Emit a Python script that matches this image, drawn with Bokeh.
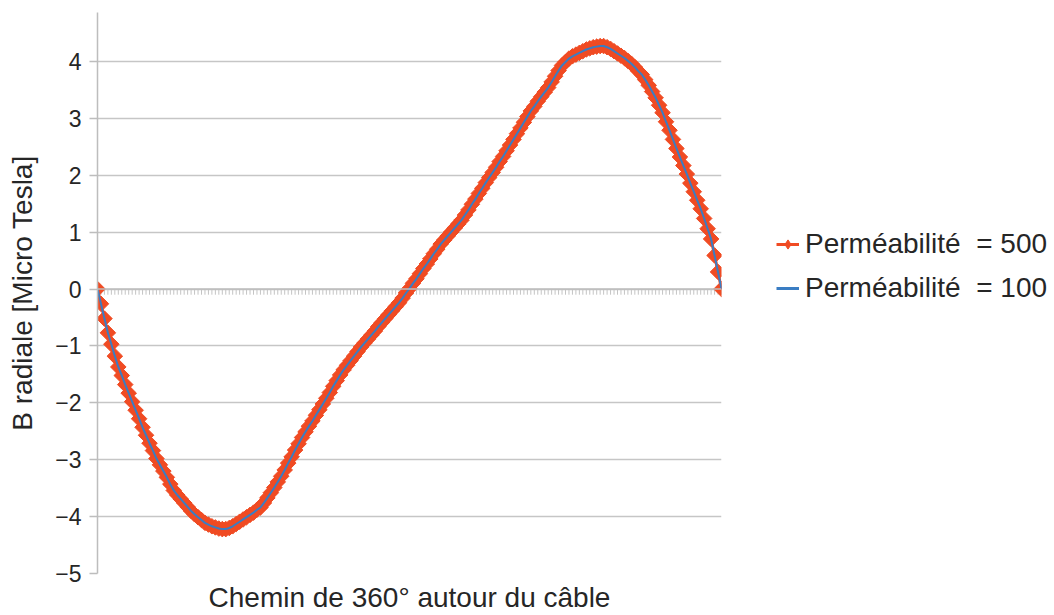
from bokeh.plotting import figure
from bokeh.layouts import row
from bokeh.models import Range1d, FixedTicker, Span, Legend, LegendItem
from bokeh.embed import file_html
from bokeh.resources import INLINE

# ---- data ----
angles = list(range(0, 361, 2))  # categories: 0..360 degrees along the path

b500 = [
    0.00, -0.26, -0.52, -0.77, -0.97, -1.18, -1.37, -1.52, -1.68, -1.83,
    -1.98, -2.13, -2.28, -2.43, -2.57, -2.71, -2.84, -2.98, -3.09, -3.20,
    -3.31, -3.43, -3.54, -3.62, -3.69, -3.76, -3.83, -3.90, -3.96, -4.01,
    -4.06, -4.11, -4.14, -4.17, -4.19, -4.21, -4.22, -4.22, -4.20, -4.17,
    -4.13, -4.09, -4.05, -4.01, -3.97, -3.93, -3.88, -3.84, -3.76, -3.67,
    -3.58, -3.49, -3.39, -3.29, -3.18, -3.06, -2.95, -2.83, -2.72, -2.61,
    -2.51, -2.41, -2.32, -2.22, -2.12, -2.02, -1.92, -1.82, -1.71, -1.61,
    -1.51, -1.42, -1.34, -1.26, -1.18, -1.10, -1.02, -0.95, -0.88, -0.81,
    -0.74, -0.66, -0.59, -0.52, -0.45, -0.38, -0.31, -0.24, -0.16, -0.07,
    0.01, 0.10, 0.18, 0.27, 0.36, 0.44, 0.53, 0.62, 0.70, 0.79,
    0.86, 0.93, 1.00, 1.07, 1.14, 1.21, 1.30, 1.39, 1.49, 1.58,
    1.68, 1.77, 1.87, 1.96, 2.05, 2.14, 2.24, 2.33, 2.43, 2.53,
    2.63, 2.73, 2.83, 2.93, 3.03, 3.13, 3.21, 3.30, 3.38, 3.46,
    3.54, 3.64, 3.74, 3.84, 3.93, 3.99, 4.05, 4.09, 4.12, 4.15,
    4.18, 4.21, 4.23, 4.25, 4.26, 4.27, 4.27, 4.25, 4.22, 4.18,
    4.14, 4.10, 4.06, 4.01, 3.96, 3.90, 3.83, 3.77, 3.68, 3.58,
    3.47, 3.36, 3.23, 3.10, 2.94, 2.79, 2.63, 2.47, 2.32, 2.17,
    2.02, 1.86, 1.71, 1.56, 1.41, 1.24, 1.06, 0.88, 0.59, 0.30,
    0.00,
]

b100 = [
    0.00, -0.26, -0.52, -0.77, -0.97, -1.18, -1.37, -1.52, -1.68, -1.83,
    -1.98, -2.13, -2.28, -2.43, -2.57, -2.71, -2.84, -2.98, -3.09, -3.20,
    -3.31, -3.43, -3.54, -3.62, -3.69, -3.76, -3.83, -3.90, -3.96, -4.01,
    -4.06, -4.11, -4.14, -4.17, -4.19, -4.21, -4.22, -4.22, -4.20, -4.17,
    -4.13, -4.09, -4.05, -4.01, -3.97, -3.93, -3.88, -3.84, -3.76, -3.67,
    -3.58, -3.49, -3.39, -3.29, -3.18, -3.06, -2.95, -2.83, -2.72, -2.61,
    -2.51, -2.41, -2.32, -2.22, -2.12, -2.02, -1.92, -1.82, -1.71, -1.61,
    -1.51, -1.42, -1.34, -1.26, -1.18, -1.10, -1.02, -0.95, -0.88, -0.81,
    -0.74, -0.66, -0.59, -0.52, -0.45, -0.38, -0.31, -0.24, -0.16, -0.07,
    0.01, 0.10, 0.18, 0.27, 0.36, 0.44, 0.53, 0.62, 0.70, 0.79,
    0.86, 0.93, 1.00, 1.07, 1.14, 1.21, 1.30, 1.39, 1.49, 1.58,
    1.68, 1.77, 1.87, 1.96, 2.05, 2.14, 2.24, 2.33, 2.43, 2.53,
    2.63, 2.73, 2.83, 2.93, 3.03, 3.13, 3.21, 3.30, 3.38, 3.46,
    3.54, 3.64, 3.74, 3.84, 3.93, 3.99, 4.05, 4.09, 4.12, 4.15,
    4.18, 4.21, 4.23, 4.25, 4.26, 4.27, 4.27, 4.25, 4.22, 4.18,
    4.14, 4.10, 4.06, 4.01, 3.96, 3.90, 3.83, 3.77, 3.68, 3.58,
    3.47, 3.36, 3.23, 3.10, 2.94, 2.79, 2.63, 2.47, 2.32, 2.17,
    2.02, 1.86, 1.71, 1.56, 1.41, 1.24, 1.06, 0.88, 0.59, 0.30,
    0.00,
]

y_ticks = [-5, -4, -3, -2, -1, 0, 1, 2, 3, 4]
label_500 = "Perméabilité  = 500"
label_100 = "Perméabilité  = 100"
x_title = "Chemin de 360° autour du câble"
y_title = "B radiale [Micro Tesla]"

RED = "#F04B23"
BLUE = "#3A7DC3"
GRID = "#c6c6c6"
AXIS = "#bdbdbd"
TEXT = "#262626"
FONT = "Liberation Sans"

p = figure(width=730, height=615, output_backend="svg", toolbar_location=None,
           x_range=Range1d(angles[0], angles[-1]), y_range=Range1d(-5, 4.86),
           min_border_left=97, min_border_right=9, min_border_top=12,
           min_border_bottom=42)
p.outline_line_color = None
p.background_fill_color = "white"
p.border_fill_color = "white"

# x axis: only its title
p.xaxis.ticker = FixedTicker(ticks=[])
p.xaxis.axis_label = x_title
p.xaxis.axis_label_text_font = FONT
p.xaxis.axis_label_text_font_size = "28px"
p.xaxis.axis_label_text_font_style = "normal"
p.xaxis.axis_label_text_color = TEXT
p.xaxis.axis_label_standoff = 8
p.xaxis.major_tick_line_color = None
p.xaxis.minor_tick_line_color = None
p.xaxis.axis_line_color = None

# y axis
p.yaxis.ticker = FixedTicker(ticks=y_ticks)
p.yaxis.axis_label = y_title
p.yaxis.axis_label_text_font = FONT
p.yaxis.axis_label_text_font_size = "28px"
p.yaxis.axis_label_text_font_style = "normal"
p.yaxis.axis_label_text_color = TEXT
p.yaxis.axis_label_standoff = 14
p.yaxis.major_label_text_font = FONT
p.yaxis.major_label_text_font_size = "23px"
p.yaxis.major_label_text_color = TEXT
p.yaxis.major_label_standoff = 8
p.yaxis.major_tick_out = 8
p.yaxis.major_tick_in = 0
p.yaxis.major_tick_line_color = AXIS
p.yaxis.major_tick_line_width = 1.5
p.yaxis.minor_tick_line_color = None
p.yaxis.axis_line_color = AXIS
p.yaxis.axis_line_width = 1.5

# grids
p.ygrid.ticker = FixedTicker(ticks=y_ticks)
p.ygrid.grid_line_color = GRID
p.ygrid.grid_line_width = 1.5
p.xgrid.ticker = FixedTicker(ticks=[angles[-1]])
p.xgrid.grid_line_color = GRID
p.xgrid.grid_line_width = 1.5

# category axis crossing at zero, with a tick per category
p.add_layout(Span(location=0, dimension="width", line_color=AXIS, line_width=1.5))
p.segment(x0=angles, y0=0, x1=angles, y1=-0.1, line_color="#c4c4c4", line_width=1)

# series
p.line(angles, b500, line_color=RED, line_width=3)
p.scatter(angles, b500, marker="square", angle=0.785398, size=11,
          fill_color=RED, line_color=RED)
p.line(angles, b100, line_color=BLUE, line_width=2)

# legend panel (separate figure so that the legend is not clipped);
# its renderers are hidden proxies that carry the same data and styles
lg = figure(width=324, height=615, output_backend="svg", toolbar_location=None,
            x_axis_type=None, y_axis_type=None, min_border=0,
            x_range=Range1d(0, 1), y_range=Range1d(0, 1))
lg.outline_line_color = None
lg.grid.visible = False
k_line = lg.line(angles, b500, line_color=RED, line_width=3, visible=False)
k_mark = lg.scatter(angles, b500, marker="diamond", size=13,
                    fill_color=RED, line_color=RED, visible=False)
k_blue = lg.line(angles, b100, line_color=BLUE, line_width=3, visible=False)

legend = Legend(items=[LegendItem(label=label_500, renderers=[k_line, k_mark]),
                       LegendItem(label=label_100, renderers=[k_blue])],
                location=(46, 269), border_line_color=None,
                background_fill_alpha=0, padding=0, margin=0, spacing=12,
                glyph_width=23, glyph_height=30, label_height=30,
                label_standoff=6, label_text_font=FONT,
                label_text_font_size="28px", label_text_color=TEXT)
lg.add_layout(legend)

open("out.html", "w").write(file_html(row(p, lg), INLINE))
